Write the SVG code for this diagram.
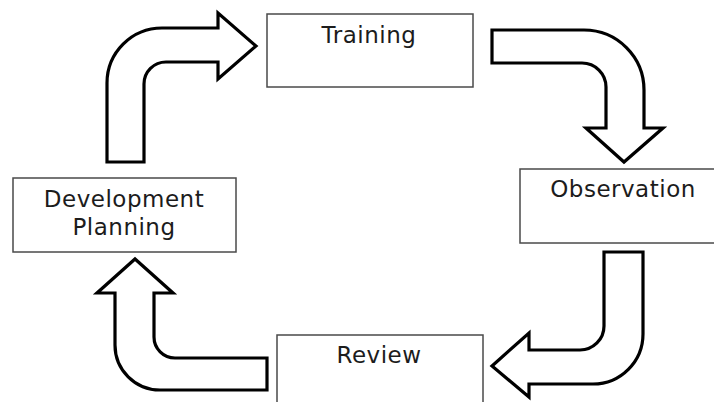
<svg xmlns="http://www.w3.org/2000/svg" width="714" height="402" viewBox="0 0 714 402">
  <style>
    .box { fill: #ffffff; stroke: #4a4a4a; stroke-width: 1.5; }
    .label { font-family: "DejaVu Sans", Verdana, sans-serif; font-size: 23px; letter-spacing: 0.5px; fill: #1c1c1c; text-anchor: middle; }
    .flow { fill: #ffffff; stroke: #000000; stroke-width: 3.2; stroke-linejoin: miter; }
  </style>
  <rect width="714" height="402" fill="#ffffff"/>

  <g id="connectors">
    <!-- Development Planning -> Training -->
    <path class="flow" d="M107,162 V83 A55,55 0 0 1 162,28 H218 V13 L256,46 L218,79 V62 H166 A22,22 0 0 0 144,84 V162 Z"/>
    <!-- Training -> Observation -->
    <path class="flow" d="M492,30 H584 A60,60 0 0 1 644,90 V128 H663 L624,162 L586,128 H606 V87 A24,24 0 0 0 582,63 H492 Z"/>
    <!-- Observation -> Review -->
    <path class="flow" d="M604,252 H643 V334 A50,50 0 0 1 593,384 H529 V397 L492,366 L529,333 V350 H580 A24,24 0 0 0 604,326 Z"/>
    <!-- Review -> Development Planning -->
    <path class="flow" d="M267,358 V390 H160 A45,45 0 0 1 115,345 V293 H97 L135,259 L173,293 H154 V337 A21,21 0 0 0 175,358 Z"/>
  </g>

  <g id="training">
    <rect class="box" x="267" y="14" width="206" height="73"/>
    <text class="label" x="369" y="43">Training</text>
  </g>

  <g id="observation">
    <rect class="box" x="520" y="169" width="210" height="74"/>
    <text class="label" x="623" y="197">Observation</text>
  </g>

  <g id="review">
    <rect class="box" x="277" y="335" width="206" height="80"/>
    <text class="label" x="379" y="363">Review</text>
  </g>

  <g id="development-planning">
    <rect class="box" x="13" y="178" width="223" height="74"/>
    <text class="label" x="124" y="207">Development</text>
    <text class="label" x="124" y="235">Planning</text>
  </g>
</svg>
